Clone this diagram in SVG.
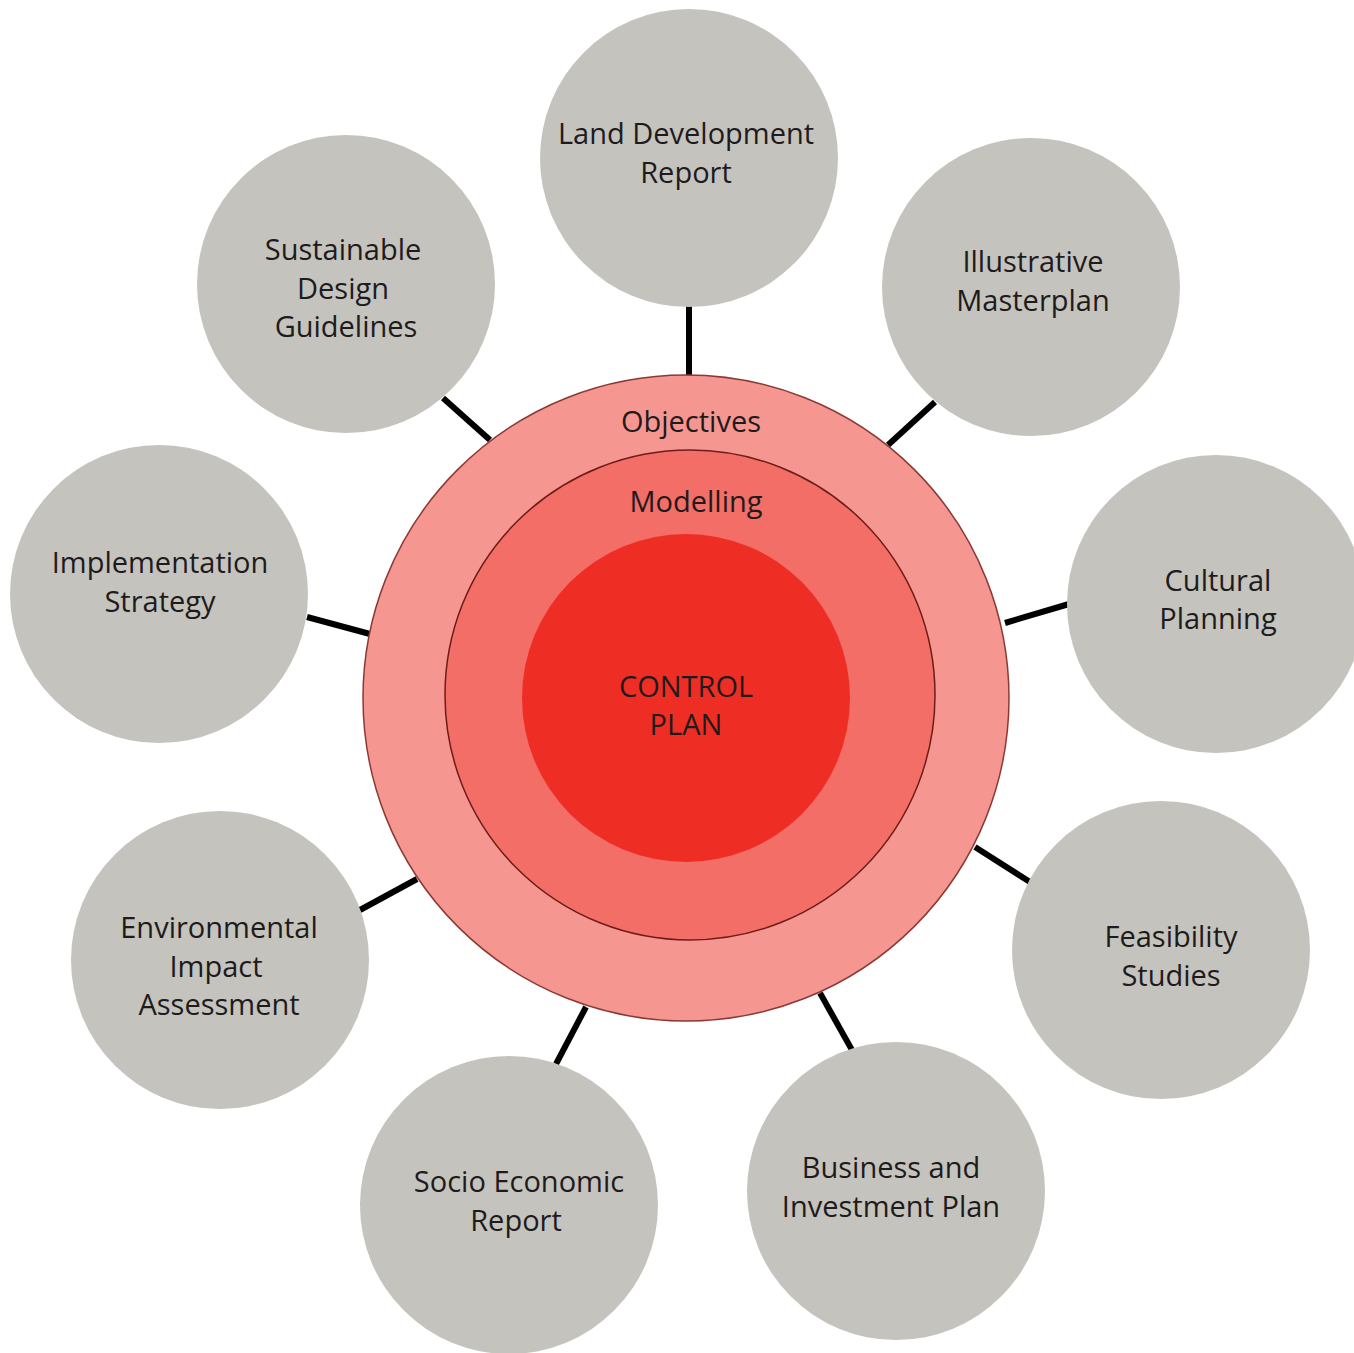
<svg xmlns="http://www.w3.org/2000/svg" width="1354" height="1353" viewBox="0 0 1354 1353">
  <style>
    .sat { fill: #c4c3bd; }
    .lbl { font-family: "Open Sans", "Liberation Sans", sans-serif; font-size: 29px; fill: #1f1b1c; text-anchor: middle; }
    .link { stroke: #000; stroke-width: 6; stroke-linecap: butt; fill: none; }
  </style>
  <rect width="1354" height="1353" fill="#ffffff"/>

  <!-- spokes from the hub to each satellite -->
  <g id="connectors">
    <line class="link" x1="689" y1="305" x2="689" y2="377"/>
    <line class="link" x1="935" y1="402" x2="888" y2="445"/>
    <line class="link" x1="1069" y1="604" x2="1005" y2="623"/>
    <line class="link" x1="1030" y1="882" x2="975" y2="847"/>
    <line class="link" x1="852" y1="1050" x2="820" y2="993"/>
    <line class="link" x1="586" y1="1007" x2="556" y2="1064"/>
    <line class="link" x1="417" y1="879" x2="360" y2="910"/>
    <line class="link" x1="307" y1="617" x2="370" y2="634"/>
    <line class="link" x1="443" y1="398" x2="490" y2="440"/>
  </g>

  <!-- central hub: three nested rings -->
  <g id="hub">
    <circle cx="686" cy="698" r="323" fill="#f59691" stroke="#8a3a36" stroke-width="1.5"/>
    <text class="lbl" x="691" y="432">Objectives</text>
    <circle cx="690" cy="695" r="245" fill="#f26e66" stroke="#6e1c18" stroke-width="1.5"/>
    <text class="lbl" x="696" y="512">Modelling</text>
  </g>
  <g id="control-plan">
    <circle cx="686" cy="698" r="164" fill="#ee2e24"/>
    <text class="lbl" x="686" y="697">CONTROL</text>
    <text class="lbl" x="686" y="735">PLAN</text>
  </g>

  <g id="land-development-report">
    <circle class="sat" cx="689" cy="158" r="149"/>
    <text class="lbl" x="686" y="144">Land Development</text>
    <text class="lbl" x="686" y="183">Report</text>
  </g>
  <g id="illustrative-masterplan">
    <circle class="sat" cx="1031" cy="287" r="149"/>
    <text class="lbl" x="1033" y="272">Illustrative</text>
    <text class="lbl" x="1033" y="311">Masterplan</text>
  </g>
  <g id="cultural-planning">
    <circle class="sat" cx="1216" cy="604" r="149"/>
    <text class="lbl" x="1218" y="591">Cultural</text>
    <text class="lbl" x="1218" y="629">Planning</text>
  </g>
  <g id="feasibility-studies">
    <circle class="sat" cx="1161" cy="950" r="149"/>
    <text class="lbl" x="1171" y="947">Feasibility</text>
    <text class="lbl" x="1171" y="986">Studies</text>
  </g>
  <g id="business-investment-plan">
    <circle class="sat" cx="896" cy="1191" r="149"/>
    <text class="lbl" x="891" y="1178">Business and</text>
    <text class="lbl" x="891" y="1217">Investment Plan</text>
  </g>
  <g id="socio-economic-report">
    <circle class="sat" cx="509" cy="1205" r="149"/>
    <text class="lbl" x="519" y="1192">Socio Economic</text>
    <text class="lbl" x="516" y="1231">Report</text>
  </g>
  <g id="environmental-impact-assessment">
    <circle class="sat" cx="220" cy="960" r="149"/>
    <text class="lbl" x="219" y="938">Environmental</text>
    <text class="lbl" x="216" y="977">Impact</text>
    <text class="lbl" x="219" y="1015">Assessment</text>
  </g>
  <g id="implementation-strategy">
    <circle class="sat" cx="159" cy="594" r="149"/>
    <text class="lbl" x="160" y="573">Implementation</text>
    <text class="lbl" x="160" y="612">Strategy</text>
  </g>
  <g id="sustainable-design-guidelines">
    <circle class="sat" cx="346" cy="284" r="149"/>
    <text class="lbl" x="343" y="260">Sustainable</text>
    <text class="lbl" x="343" y="299">Design</text>
    <text class="lbl" x="346" y="337">Guidelines</text>
  </g>
</svg>
